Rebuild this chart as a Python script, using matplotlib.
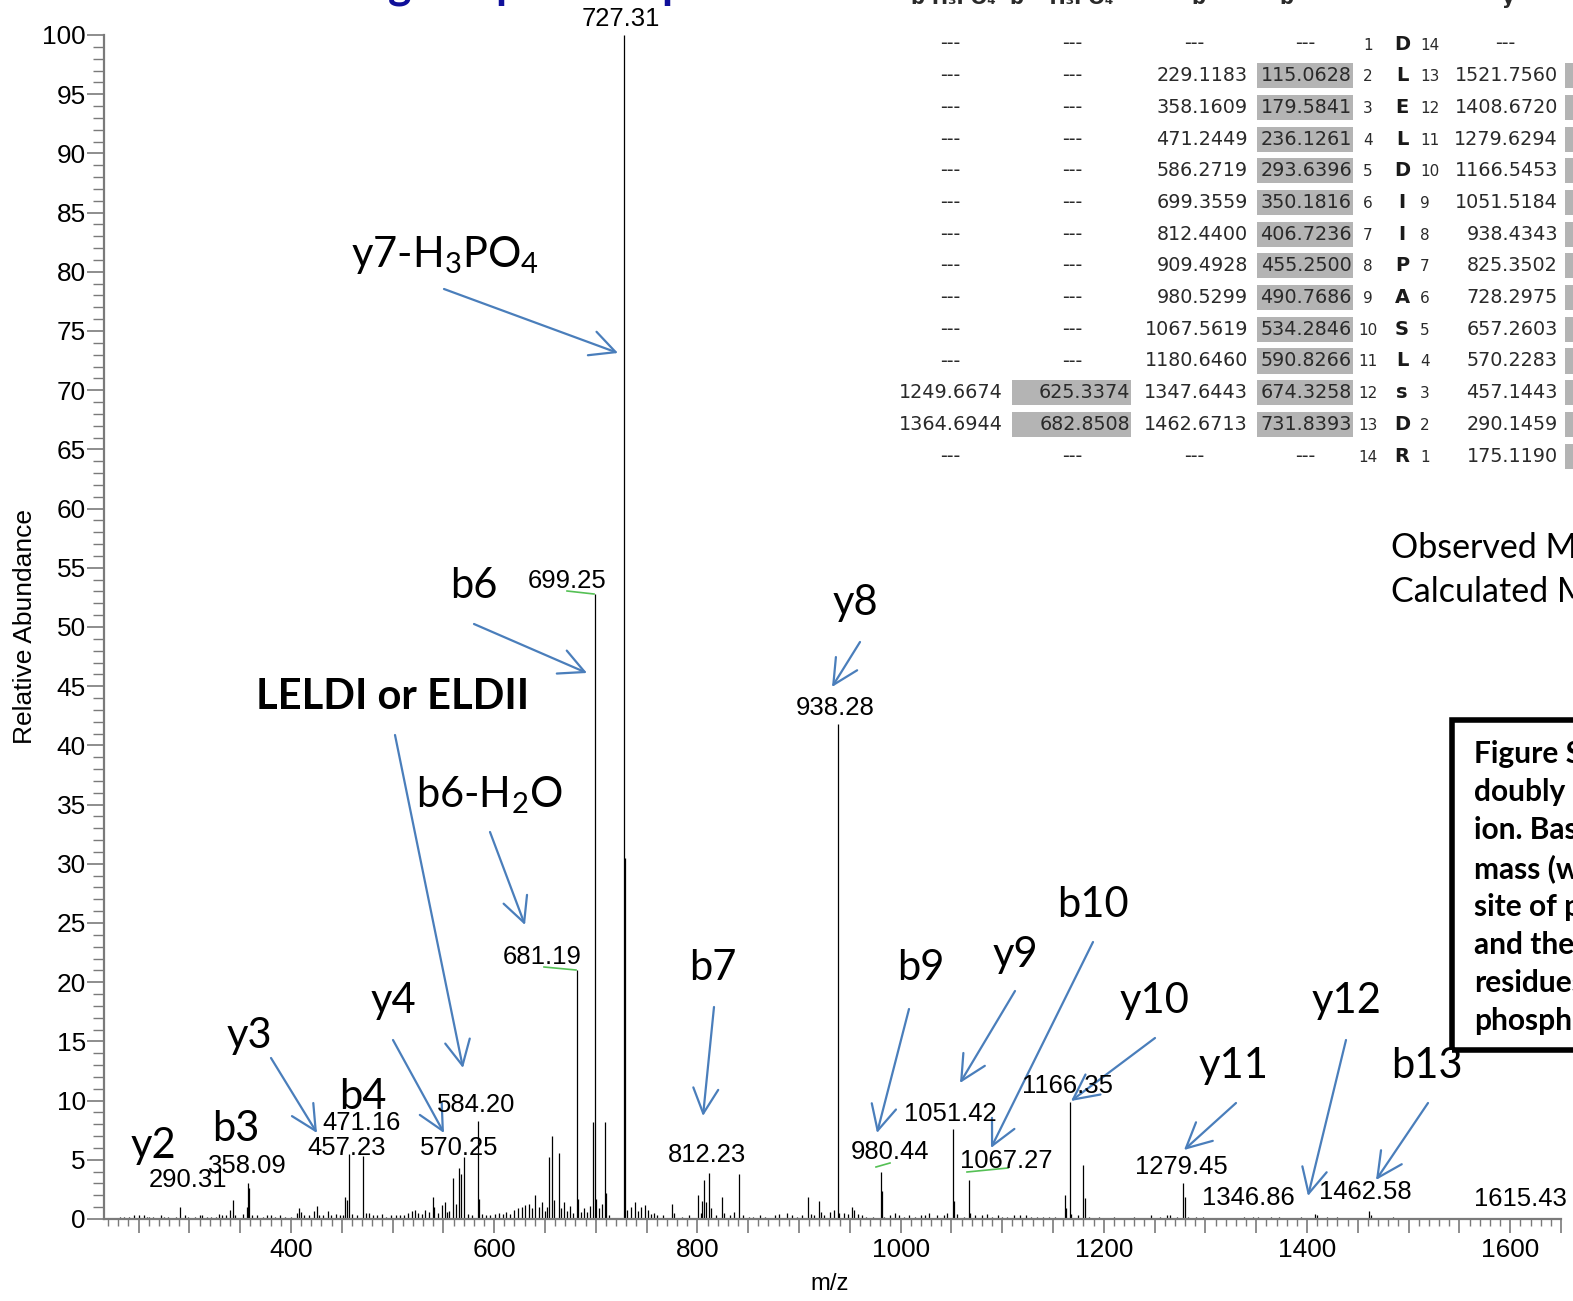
import matplotlib
matplotlib.use('Agg')
import matplotlib.pyplot as plt
from matplotlib import font_manager
from matplotlib.patches import FancyArrowPatch, Rectangle, ArrowStyle
from matplotlib.lines import Line2D
from matplotlib.ticker import MultipleLocator, FixedLocator, FuncFormatter

W, H = 1573, 1301


def has_font(name):
    try:
        font_manager.findfont(font_manager.FontProperties(family=name),
                              fallback_to_default=False)
        return True
    except Exception:
        return False


NARROW = 'Liberation Sans Narrow' if has_font('Liberation Sans Narrow') else 'Liberation Sans'
NSCALE = 1.0 if NARROW == 'Liberation Sans Narrow' else 0.82
CAL = 'Lato' if has_font('Lato') else 'DejaVu Sans'

plt.rcParams['mathtext.fontset'] = 'custom'
plt.rcParams['mathtext.rm'] = CAL
plt.rcParams['mathtext.it'] = CAL
plt.rcParams['mathtext.bf'] = CAL + ':bold'

# ---------------- spectrum data (m/z, relative abundance) ----------------
mz = [232, 236, 241, 246, 250, 255, 258, 260, 264, 272, 275, 279, 287, 290.31, 296, 299,
      306, 310, 312, 317, 321, 326, 329, 332, 336, 340, 342.6, 345, 353, 356.4, 357.4, 359.0,
      362, 367, 372, 376, 380, 384, 389, 394,
      400, 406, 408, 410, 413, 418, 423, 425.6, 428, 432, 436, 439, 444, 448, 451, 453, 455,
      457.23, 460, 465, 471.16, 474, 477, 481, 485, 490, 494, 498,
      503, 507, 511, 515, 519, 522, 525, 529, 532, 536, 539.5, 541, 545, 549, 552, 554, 556,
      559.2, 562, 565.7, 567.4, 570.25, 574, 578, 584.20, 585.2, 588, 592, 596,
      601, 605, 609, 612, 616, 620, 623, 627, 630, 634, 637, 640, 644, 647, 650, 652, 654,
      657, 659, 663.5, 666, 669, 672, 675, 678, 681.19, 682.5, 685, 688, 691, 694, 697.6,
      699.25, 700.5, 703, 706, 709.4, 710.5, 713, 727.31, 728.6, 731, 735, 738.6, 742, 745,
      748, 751, 754, 757, 760, 766, 775, 777, 785, 792, 800.4,
      804, 805, 806.9, 808.5, 811.8, 813, 818, 824.6, 826, 832, 836, 841, 845, 851, 855, 862,
      867, 876, 880, 888, 893, 898, 903,
      909.3, 912, 915, 919.8, 922, 925, 931, 934, 938.28, 939.5, 944, 948, 952, 954, 958, 962,
      966, 973, 980.44, 981.4, 984, 990, 995, 998,
      1003, 1008, 1014, 1020, 1024, 1028, 1036, 1043, 1046, 1051.42, 1052.4, 1056, 1062,
      1067.27, 1068.5, 1073, 1080, 1085, 1090, 1096, 1100,
      1105, 1112, 1118, 1123, 1128, 1134, 1140, 1146, 1152, 1162, 1163.2, 1166.35, 1168, 1175,
      1180.0, 1181.3, 1185, 1195,
      1210, 1230, 1246, 1255, 1262, 1265, 1272, 1278.4, 1279.6, 1283, 1291, 1298, 1314, 1322,
      1338, 1347, 1352, 1365, 1372, 1394, 1408, 1410, 1420, 1430, 1461.5, 1463, 1485, 1518,
      1600, 1615.43]
intensity = [0.2, 0.2, 0.2, 0.3, 0.3, 0.3, 0.2, 0.2, 0.2, 0.3, 0.2, 0.2, 0.2, 1.0, 0.3, 0.2,
             0.2, 0.3, 0.3, 0.2, 0.2, 0.2, 0.4, 0.3, 0.3, 0.8, 1.6, 0.3, 0.4, 1.0, 3.0, 2.6,
             0.3, 0.3, 0.2, 0.3, 0.3, 0.2, 0.3, 0.2,
             0.2, 0.5, 0.9, 0.6, 0.3, 0.3, 0.7, 1.1, 0.3, 0.3, 0.7, 0.3, 0.4, 0.3, 0.3, 1.9, 1.6,
             5.5, 0.4, 0.3, 5.3, 0.5, 0.5, 0.3, 0.3, 0.4, 0.2, 0.3,
             0.3, 0.3, 0.3, 0.5, 0.7, 0.8, 0.5, 0.4, 0.8, 0.6, 1.9, 1.0, 0.5, 1.2, 1.4, 0.6, 0.7,
             3.5, 1.3, 4.3, 3.8, 5.2, 0.4, 0.3, 8.3, 1.7, 0.4, 0.3, 0.3,
             0.4, 0.5, 0.4, 0.6, 0.4, 0.8, 0.9, 1.0, 1.2, 1.3, 0.9, 2.0, 1.0, 1.4, 0.7, 1.0, 5.2,
             7.0, 1.6, 5.6, 0.9, 1.4, 0.7, 1.1, 0.5, 21.0, 1.7, 0.6, 0.9, 0.6, 1.1, 8.2,
             52.8, 1.7, 0.9, 1.3, 8.2, 2.2, 0.3, 100.0, 30.5, 0.8, 1.0, 1.4, 0.7, 1.0,
             1.2, 0.8, 0.4, 0.5, 0.3, 0.3, 1.3, 0.5, 0.2, 0.3, 2.0,
             0.5, 1.5, 3.3, 1.4, 3.9, 0.9, 0.3, 1.9, 0.5, 0.3, 0.6, 3.8, 0.3, 0.2, 0.2, 0.3,
             0.2, 0.3, 0.4, 0.5, 0.3, 0.2, 0.3,
             1.9, 0.4, 0.3, 1.5, 0.6, 0.3, 0.6, 0.8, 41.8, 0.5, 0.5, 0.4, 1.0, 0.8, 0.4, 0.3,
             0.2, 0.2, 4.0, 2.4, 0.2, 0.3, 0.5, 0.3,
             0.2, 0.3, 0.2, 0.3, 0.3, 0.5, 0.3, 0.3, 0.5, 7.6, 1.5, 0.4, 0.2,
             3.3, 0.5, 0.3, 0.3, 0.4, 0.2, 0.3, 0.2,
             0.2, 0.3, 0.3, 0.3, 0.2, 0.2, 0.2, 0.2, 0.2, 2.0, 0.9, 9.9, 0.4, 0.3,
             4.6, 1.8, 0.2, 0.2,
             0.2, 0.2, 0.3, 0.2, 0.3, 0.3, 0.2, 3.0, 1.9, 0.2, 0.2, 0.2, 0.1, 0.1,
             0.2, 0.2, 0.2, 0.2, 0.2, 0.2, 0.4, 0.3, 0.2, 0.2, 0.7, 0.3, 0.2, 0.1,
             0.1, 0.1]

x_tick_labels = [400, 600, 800, 1000, 1200, 1400, 1600]
y_tick_labels = list(range(0, 101, 5))

# peak labels (text) and big ion-annotation labels
peak_labels = ['727.31', '584.20', '471.16', '457.23', '570.25', '290.31', '358.09', '812.23',
               '980.44', '1051.42', '1067.27', '1166.35', '1279.45', '1346.86', '1462.58',
               '1615.43']
peak_labels_reg = ['699.25', '681.19', '938.28']
ion_labels = [r'y7-H$_3$PO$_4$', 'b6', 'y8', r'b6-H$_2$O', 'b10', 'b7', 'b9', 'y9', 'y10',
              'y12', 'y3', 'y4', 'y11', 'b13', 'b4', 'b3', 'y2']

# fragment table
tbl_bH3PO4 = ['---'] * 11 + ['1249.6674', '1364.6944', '---']
tbl_b2H3PO4 = ['---'] * 11 + ['625.3374', '682.8508', '---']
tbl_b = ['---', '229.1183', '358.1609', '471.2449', '586.2719', '699.3559', '812.4400',
         '909.4928', '980.5299', '1067.5619', '1180.6460', '1347.6443', '1462.6713', '---']
tbl_b2 = ['---', '115.0628', '179.5841', '236.1261', '293.6396', '350.1816', '406.7236',
          '455.2500', '490.7686', '534.2846', '590.8266', '674.3258', '731.8393', '---']
tbl_seq = ['D', 'L', 'E', 'L', 'D', 'I', 'I', 'P', 'A', 'S', 'L', 's', 'D', 'R']
tbl_y = ['---', '1521.7560', '1408.6720', '1279.6294', '1166.5453', '1051.5184', '938.4343',
         '825.3502', '728.2975', '657.2603', '570.2283', '457.1443', '290.1459', '175.1190']
tbl_headers = ['b-H\u2083PO\u2084', 'b\u00b2\u207a-H\u2083PO\u2084', 'b', 'b\u00b2\u207a', 'y']

caption_lines = ['Figure S1.', 'doubly charged', 'ion. Based', 'mass (with', 'site of phos',
                 'and the', 'residues', 'phosphorylated']
mass_lines = ['Observed Mass', 'Calculated Mass']

# ---------------- layout (pixel positions) ----------------
peak_label_pos = [(621, 19), (476, 1105), (362, 1123), (347, 1148), (459, 1148), (188, 1180),
                  (247, 1166), (707, 1155), (890, 1152), (950, 1114), (1006, 1161),
                  (1067, 1086), (1181, 1167), (1248, 1198), (1365, 1192), (1520, 1199)]
peak_label_reg_pos = [(567, 581), (542, 957), (835, 708)]
ion_label_pos = [(445, 255), (474, 586), (855, 603), (489, 795), (1093, 905), (713, 968),
                 (921, 968), (1015, 955), (1155, 1001), (1346, 1001), (249, 1036), (393, 1001),
                 (1234, 1066), (1427, 1066), (363, 1097), (236, 1129), (153, 1146)]
arrows = [((444, 289), (618, 353)), ((474, 624), (587, 673)), ((395, 735), (463, 1068)),
          ((490, 832), (525, 925)), ((271, 1058), (317, 1133)), ((393, 1040), (444, 1133)),
          ((714, 1007), (703, 1116)), ((860, 642), (832, 687)), ((909, 1009), (877, 1133)),
          ((1015, 991), (960, 1083)), ((1093, 942), (991, 1148)), ((1155, 1038), (1071, 1101)),
          ((1236, 1103), (1184, 1150)), ((1346, 1040), (1308, 1196)), ((1428, 1103), (1376, 1180))]
green_leaders = [((567, 591), (594, 594)), ((544, 967), (576, 970)),
                 ((876, 1167), (890, 1163)), ((967, 1172), (1008, 1168))]


def F(x, y):
    return x / W, 1 - y / H


fig = plt.figure(figsize=(W / 100, H / 100), dpi=100)
fig.patch.set_facecolor('white')

ax = fig.add_axes([104 / W, 1 - 1219 / H, (1561 - 104) / W, (1219 - 35) / H])
ax.set_xlim(216, 1650)
ax.set_ylim(0, 100)
ax.vlines(mz, 0, intensity, colors='black', linewidth=0.9)

for s in ['top', 'right']:
    ax.spines[s].set_visible(False)
for s in ['left', 'bottom']:
    ax.spines[s].set_color('#7a7a7a')
    ax.spines[s].set_linewidth(1.6)

ax.yaxis.set_major_locator(FixedLocator(y_tick_labels))
ax.yaxis.set_minor_locator(MultipleLocator(1))
ax.xaxis.set_major_locator(FixedLocator(list(range(250, 1651, 50))))
ax.xaxis.set_minor_locator(MultipleLocator(10))
ax.xaxis.set_major_formatter(FuncFormatter(
    lambda v, p: str(int(v)) if int(round(v)) in x_tick_labels else ''))
ax.tick_params(axis='y', which='major', length=12, width=1.2, color='#7a7a7a', pad=1,
               labelsize=23 * NSCALE)
ax.tick_params(axis='y', which='minor', length=8, width=1.0, color='#7a7a7a')
ax.tick_params(axis='x', which='major', length=10, width=1.2, color='#7a7a7a', pad=4,
               labelsize=23 * NSCALE)
ax.tick_params(axis='x', which='minor', length=5, width=1.0, color='#7a7a7a')
for lab in ax.get_xticklabels() + ax.get_yticklabels():
    lab.set_family(NARROW)

fig.text(*F(25, 627), 'Relative Abundance', rotation=90, ha='center', va='center',
         family='Liberation Sans', fontsize=19)
fig.text(*F(830, 1284), 'm/z', ha='center', va='center', family=NARROW,
         fontsize=21 * NSCALE)

# peak labels
for t, (x, y) in zip(peak_labels, peak_label_pos):
    fig.text(*F(x, y), t, ha='center', va='center', family=NARROW, fontsize=22.5 * NSCALE)
for t, (x, y) in zip(peak_labels_reg, peak_label_reg_pos):
    fig.text(*F(x, y), t, ha='center', va='center', family='Liberation Sans', fontsize=18.5)

for (a, b) in green_leaders:
    fig.add_artist(Line2D([a[0] / W, b[0] / W], [1 - a[1] / H, 1 - b[1] / H],
                          transform=fig.transFigure, color='#55c055', lw=1.2))

# ion annotation labels
for t, (x, y) in zip(ion_labels, ion_label_pos):
    fig.text(*F(x, y), t, ha='center', va='center', family=CAL, fontsize=30)
fig.text(*F(393, 697), 'LELDI or ELDII', ha='center', va='center', family=CAL,
         fontsize=30, fontweight='bold')

astyle = ArrowStyle('->', head_length=0.6, head_width=0.3)
for (a, b) in arrows:
    fig.add_artist(FancyArrowPatch(F(*a), F(*b), transform=fig.transFigure,
                                   arrowstyle=astyle, mutation_scale=30, color='#4a7ebb',
                                   lw=1.6, shrinkA=0, shrinkB=0))

# ---------------- fragment table ----------------
row_y = [44 + i * 31.7 for i in range(14)]
gray = '#b4b4b4'
tfont = dict(family='DejaVu Sans', fontsize=13.8, color='#2a2a2a', va='center')
for i, yy in enumerate(row_y):
    # gray cells
    if tbl_b2[i] != '---':
        fig.add_artist(Rectangle(F(1257, yy + 12.5), 96 / W, 25 / H,
                                 transform=fig.transFigure, color=gray, lw=0))
    if tbl_b2H3PO4[i] != '---':
        fig.add_artist(Rectangle(F(1012, yy + 12.5), 119 / W, 25 / H,
                                 transform=fig.transFigure, color=gray, lw=0))
    if i > 0:
        fig.add_artist(Rectangle(F(1565, yy + 12.5), 40 / W, 25 / H,
                                 transform=fig.transFigure, color=gray, lw=0))
    cols = [(tbl_bH3PO4[i], 1003, 950), (tbl_b2H3PO4[i], 1130, 1072),
            (tbl_b[i], 1248, 1194), (tbl_b2[i], 1352, 1305), (tbl_y[i], 1558, 1505)]
    for txt, xr, xc in cols:
        if txt == '---':
            fig.text(*F(xc, yy), txt, ha='center', **tfont)
        else:
            fig.text(*F(xr, yy), txt, ha='right', **tfont)
    fig.text(*F(1368, yy + 1), str(i + 1), ha='center', va='center', family='DejaVu Sans',
             fontsize=11, color='#2a2a2a')
    fig.text(*F(1402, yy), tbl_seq[i], ha='center', va='center', family='DejaVu Sans',
             fontsize=14, fontweight='bold', color='#1a1a1a')
    fig.text(*F(1420, yy + 1), str(14 - i), ha='left', va='center', family='DejaVu Sans',
             fontsize=11, color='#2a2a2a')

for t, xc in zip(tbl_headers, [953, 1062, 1198, 1296, 1508]):
    fig.text(*F(xc, 4), t, ha='center', va='baseline', family='DejaVu Sans',
             fontsize=14, fontweight='bold', color='#2a2a2a')

# clipped blue title fragments at the very top
for ch, x in zip(['g', 'p', 'p'], [400, 508, 674]):
    fig.text(*F(x, -1), ch, ha='center', va='baseline', family=CAL, fontsize=32,
             fontweight='bold', color='#10109a')

# observed / calculated mass text
for t, y in zip(mass_lines, [548, 592]):
    fig.text(*F(1391, y), t, ha='left', va='center', family=CAL, fontsize=24.5)

# caption box
fig.add_artist(Rectangle(F(1452, 1050), 300 / W, 330 / H, transform=fig.transFigure,
                         fill=False, edgecolor='black', lw=4))
for k, t in enumerate(caption_lines):
    fig.text(*F(1474, 754 + k * 38.2), t, ha='left', va='center', family=CAL,
             fontsize=21.5, fontweight='bold')

fig.savefig('out.png', dpi=100)
